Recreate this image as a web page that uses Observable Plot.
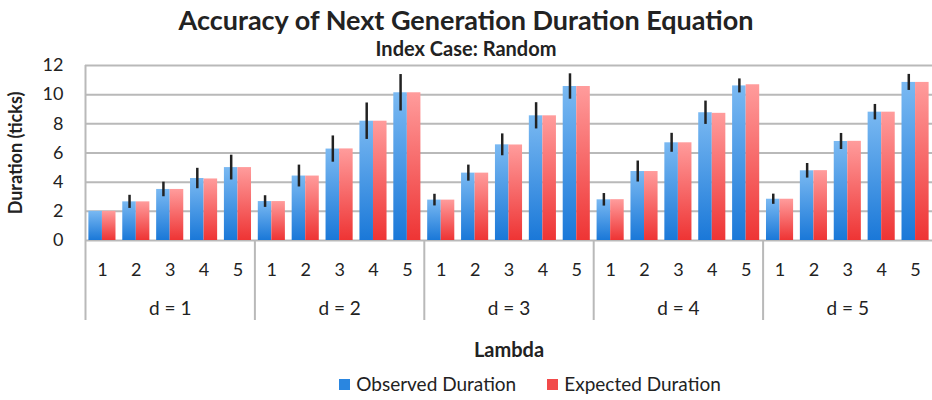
<!DOCTYPE html>
<html>
<head>
<meta charset="utf-8">
<script src="https://cdn.jsdelivr.net/npm/d3@7"></script>
<script src="https://cdn.jsdelivr.net/npm/@observablehq/plot@0.6"></script>
<style>
  html, body { margin: 0; padding: 0; background: #fff; }
  #wrap { position: relative; width: 932px; height: 400px; font-family: Lato, "Noto Sans", sans-serif; color: #222; }
  #title { position: absolute; top: 5px; left: 0; width: 932px; text-align: center; font-weight: bold; font-size: 27px; line-height: 30px; }
  #subtitle { position: absolute; top: 37px; left: 0; width: 932px; text-align: center; font-weight: bold; font-size: 20px; line-height: 22px; }
  #chart { position: absolute; top: 58px; left: 0; }
  #legend { position: absolute; top: 371px; left: 0; width: 932px; display: flex; justify-content: center; gap: 31px; font-size: 19px; line-height: 26px; padding-left: 128px; box-sizing: border-box; }
  #legend .item { display: flex; align-items: center; gap: 6px; }
  #legend .sw { width: 11px; height: 11px; display: inline-block; }
</style>
</head>
<body>
<div id="wrap">
  <div id="title">Accuracy of Next Generation Duration Equation</div>
  <div id="subtitle">Index Case: Random</div>
  <div id="chart"></div>
  <div id="legend"></div>
</div>
<script>
// Group (d) and within-group (lambda) categories
const dValues = [1, 2, 3, 4, 5];
const lambdas = [1, 2, 3, 4, 5];

// Mean observed duration (ticks), one row per d, one entry per lambda
const observed = [
  [2.0, 2.65, 3.5, 4.25, 5.0],
  [2.67, 4.42, 6.27, 8.18, 10.13],
  [2.77, 4.62, 6.56, 8.55, 10.56],
  [2.79, 4.73, 6.7, 8.76, 10.6],
  [2.83, 4.78, 6.79, 8.8, 10.84]
];

// Duration predicted by the equation
const expected = [
  [2.0, 2.65, 3.5, 4.22, 5.0],
  [2.67, 4.42, 6.28, 8.18, 10.13],
  [2.77, 4.62, 6.55, 8.55, 10.56],
  [2.8, 4.73, 6.7, 8.72, 10.68],
  [2.83, 4.79, 6.8, 8.8, 10.84]
];

// Half-length of the error bars on the observed durations
const errors = [
  [0.0, 0.45, 0.5, 0.7, 0.85],
  [0.4, 0.75, 0.9, 1.25, 1.25],
  [0.4, 0.55, 0.75, 0.9, 0.87],
  [0.43, 0.72, 0.65, 0.8, 0.48],
  [0.35, 0.5, 0.55, 0.53, 0.55]
];

const yTicks = [0, 2, 4, 6, 8, 10, 12];
const seriesNames = ["Observed Duration", "Expected Duration"];
const seriesColors = ["#2a86e0", "#f24a4a"];

// Flatten into rows; i is the slot index along the x axis
const rows = [];
dValues.forEach((d, g) => {
  lambdas.forEach((l, k) => {
    rows.push({d, lambda: l, i: g * lambdas.length + k,
      observed: observed[g][k], expected: expected[g][k], err: errors[g][k]});
  });
});
const groups = dValues.map((d, g) => ({d, start: g * lambdas.length - 0.5, center: g * lambdas.length + (lambdas.length - 1) / 2}));
const half = 0.4; // half of the paired bar width, in slot units
const yMax = yTicks[yTicks.length - 1];

const gridColor = "#b9b9b9";
const font = "Lato, 'Noto Sans', sans-serif";

const chart = Plot.plot({
  width: 932,
  height: 307,
  marginLeft: 85,
  marginRight: 0,
  marginTop: 7,
  marginBottom: 125,
  style: {fontFamily: font, color: "#222", background: "transparent", overflow: "visible"},
  x: {type: "linear", domain: [-0.5, rows.length - 0.5], axis: null},
  y: {domain: [0, yMax], axis: null},
  marks: [
    Plot.ruleY(yTicks, {stroke: gridColor, strokeWidth: 2}),
    Plot.ruleX([groups[0]], {x: "start", y1: yMax, y2: 0, insetBottom: -80, stroke: gridColor, strokeWidth: 2}),
    Plot.ruleX(groups.slice(1), {x: "start", y1: 0, y2: 0, insetBottom: -80, stroke: gridColor, strokeWidth: 2}),
    Plot.rectY(rows, {x1: d => d.i - half, x2: d => d.i, y1: 0, y2: "observed", fill: "url(#gradObserved)"}),
    Plot.rectY(rows, {x1: d => d.i, x2: d => d.i + half, y1: 0, y2: "expected", fill: "url(#gradExpected)"}),
    Plot.ruleX(rows.filter(d => d.err > 0), {x: d => d.i - half / 2, y1: d => d.observed - d.err, y2: d => d.observed + d.err, stroke: "#222", strokeWidth: 2.5}),
    Plot.text(yTicks, {y: d => d, frameAnchor: "left", text: d => String(d), textAnchor: "end", dx: -22, fontSize: 18, fill: "#222"}),
    Plot.text(["Duration (ticks)"], {x: () => -0.5, y: () => yMax / 2, rotate: -90, dx: -69, fontSize: 18, fontWeight: "bold", fill: "#222"}),
    Plot.text(rows, {x: "i", y: () => 0, text: d => String(d.lambda), dy: 30, fontSize: 18, fill: "#222"}),
    Plot.text(groups, {x: "center", y: () => 0, text: d => `d = ${d.d}`, dy: 68, fontSize: 19, fill: "#222"}),
    Plot.text(["Lambda"], {x: () => (rows.length - 1) / 2, y: () => 0, dy: 110, fontSize: 20, fontWeight: "bold", fill: "#222"})
  ]
});

// Vertical shading of the bars
const defs = d3.select(chart).insert("defs", ":first-child");
function gradient(id, top, bottom) {
  const g = defs.append("linearGradient").attr("id", id).attr("x1", 0).attr("y1", 0).attr("x2", 0).attr("y2", 1);
  g.append("stop").attr("offset", "0%").attr("stop-color", top);
  g.append("stop").attr("offset", "100%").attr("stop-color", bottom);
}
gradient("gradObserved", "#7ab9f2", "#1a78d8");
gradient("gradExpected", "#ff9c9c", "#ee3434");

document.getElementById("chart").appendChild(chart);

const legend = document.getElementById("legend");
seriesNames.forEach((name, s) => {
  const item = document.createElement("span");
  item.className = "item";
  const sw = document.createElement("span");
  sw.className = "sw";
  sw.style.background = seriesColors[s];
  item.appendChild(sw);
  item.appendChild(document.createTextNode(name));
  legend.appendChild(item);
});
</script>
</body>
</html>
